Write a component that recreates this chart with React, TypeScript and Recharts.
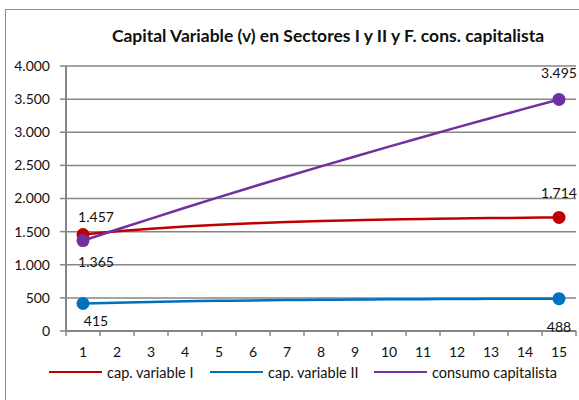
import { LineChart, Line, XAxis, YAxis, CartesianGrid, Legend } from "recharts";

// periods on the x axis
const periodos = [1, 2, 3, 4, 5, 6, 7, 8, 9, 10, 11, 12, 13, 14, 15];

// values (only first and last are labelled)
const capVariableI = [1457, 1505, 1545, 1578, 1605, 1627, 1645, 1660, 1672, 1682, 1691, 1698, 1704, 1709, 1714];
const capVariableII = [415, 428, 439, 448, 456, 462, 467, 471, 475, 478, 481, 483, 485, 487, 488];
const consumoCapitalista = [1365, 1532, 1697, 1860, 2020, 2178, 2333, 2485, 2635, 2783, 2929, 3073, 3215, 3356, 3495];

const yTicks = [0, 500, 1000, 1500, 2000, 2500, 3000, 3500, 4000];

const FONT = "Lato, 'Open Sans', sans-serif";
const GRID = "#868686";

const W = 579;
const H = 400;
const MARGIN = { top: 66, right: 3, bottom: 0, left: 0 };
const Y_W = 66;
// half of one category slot, so points sit in the middle of each slot
const HALF = (W - MARGIN.left - MARGIN.right - Y_W) / periodos.length / 2;

const data = periodos.map((p, i) => ({
  periodo: String(p),
  capI: capVariableI[i],
  capII: capVariableII[i],
  consumo: consumoCapitalista[i],
}));

const series = [
  { key: "capI", name: "cap. variable I", color: "#C00000", firstDy: -18, lastDy: -25, legendLeft: 49 },
  { key: "capII", name: "cap. variable II", color: "#0070C0", firstDy: 17, lastDy: 28, legendLeft: 210 },
  { key: "consumo", name: "consumo capitalista", color: "#7030A0", firstDy: 21, lastDy: -27, legendLeft: 374 },
];

const fmt = (v: number) => String(Math.round(v)).replace(/\B(?=(\d{3})+(?!\d))/g, ".");

const last = periodos.length - 1;

function endDot(color: string) {
  return (props: any) => {
    const { cx, cy, index } = props;
    if (index !== 0 && index !== last) return <g key={`d-${index}`} />;
    return <circle key={`d-${index}`} cx={cx} cy={cy} r={6.5} fill={color} stroke="none" />;
  };
}

function endLabel(firstDy: number, lastDy: number) {
  return (props: any) => {
    const { x, y, value, index } = props;
    if (index !== 0 && index !== last) return <g key={`l-${index}`} />;
    const dx = index === 0 ? 13 : 0;
    const dy = index === 0 ? firstDy : lastDy;
    return (
      <text
        key={`l-${index}`}
        x={x + dx}
        y={y + dy}
        textAnchor="middle"
        dominantBaseline="central"
        fontSize={14}
        fontFamily={FONT}
        fill="#111"
      >
        {fmt(value)}
      </text>
    );
  };
}

function XTick(props: any) {
  const { x, y, payload, index, visibleTicksCount } = props;
  return (
    <g>
      <line x1={x - HALF} x2={x - HALF} y1={y} y2={y + 5} stroke={GRID} strokeWidth={1.5} />
      {index === visibleTicksCount - 1 && (
        <line x1={x + HALF} x2={x + HALF} y1={y} y2={y + 5} stroke={GRID} strokeWidth={1.5} />
      )}
      <text x={x} y={y + 26} textAnchor="middle" fontSize={14} fontFamily={FONT} fill="#111">
        {payload.value}
      </text>
    </g>
  );
}

function LegendContent() {
  return (
    <div
      style={{
        position: "relative",
        height: 22,
        width: W,
        fontFamily: FONT,
        fontSize: 14.5,
        color: "#111",
        whiteSpace: "nowrap",
      }}
    >
      {series.map((s) => (
        <div
          key={s.key}
          style={{ position: "absolute", left: s.legendLeft, top: 0, height: 22, display: "flex", alignItems: "center" }}
        >
          <span style={{ display: "inline-block", flex: "none", width: 53, height: 2.5, background: s.color, marginRight: 5 }} />
          <span>{s.name}</span>
        </div>
      ))}
    </div>
  );
}

export default function App() {
  return (
    <div style={{ position: "absolute", left: 0, top: 0, width: W, height: H, overflow: "hidden", background: "#fff" }}>
      <div
        style={{
          position: "absolute",
          left: 5,
          top: 9,
          width: 700,
          height: 500,
          border: "1px solid #8c8c8c",
        }}
      />
      <div
        style={{
          position: "absolute",
          left: 78,
          top: 27,
          width: 500,
          textAlign: "center",
          fontFamily: FONT,
          fontWeight: 700,
          fontSize: 17.5,
          lineHeight: "17.5px",
          color: "#111",
          whiteSpace: "nowrap",
        }}
      >
        Capital Variable (v) en Sectores I y II y F. cons. capitalista
      </div>
      <div style={{ position: "absolute", left: 0, top: 0 }}>
        <LineChart width={W} height={H} data={data} margin={MARGIN}>
          <CartesianGrid vertical={false} stroke={GRID} strokeWidth={1.5} />
          <XAxis
            dataKey="periodo"
            height={30}
            interval={0}
            padding={{ left: HALF, right: HALF }}
            tickLine={false}
            tickSize={0}
            tickMargin={0}
            axisLine={{ stroke: GRID, strokeWidth: 2 }}
            tick={<XTick />}
          />
          <XAxis
            xAxisId="top"
            orientation="top"
            dataKey="periodo"
            height={0}
            tick={false}
            tickLine={false}
            axisLine={{ stroke: "#000", strokeWidth: 1.5 }}
          />
          <YAxis
            width={Y_W}
            domain={[0, 4000]}
            ticks={yTicks}
            interval={0}
            tickFormatter={fmt}
            tickSize={6}
            tickMargin={10}
            tick={{ fontSize: 14, fontFamily: FONT, fill: "#111" }}
            tickLine={{ stroke: GRID, strokeWidth: 1.5 }}
            axisLine={{ stroke: GRID, strokeWidth: 2 }}
          />
          <YAxis
            yAxisId="right"
            orientation="right"
            width={0}
            domain={[0, 4000]}
            tick={false}
            tickLine={false}
            axisLine={{ stroke: "#000", strokeWidth: 1.5 }}
          />
          <Legend
            verticalAlign="bottom"
            height={39}
            wrapperStyle={{ left: 0, width: W }}
            content={<LegendContent />}
          />
          {series.map((s) => (
            <Line
              key={s.key}
              type="monotone"
              dataKey={s.key}
              name={s.name}
              stroke={s.color}
              strokeWidth={2.5}
              dot={endDot(s.color)}
              activeDot={false}
              label={endLabel(s.firstDy, s.lastDy)}
              isAnimationActive={false}
            />
          ))}
        </LineChart>
      </div>
    </div>
  );
}
